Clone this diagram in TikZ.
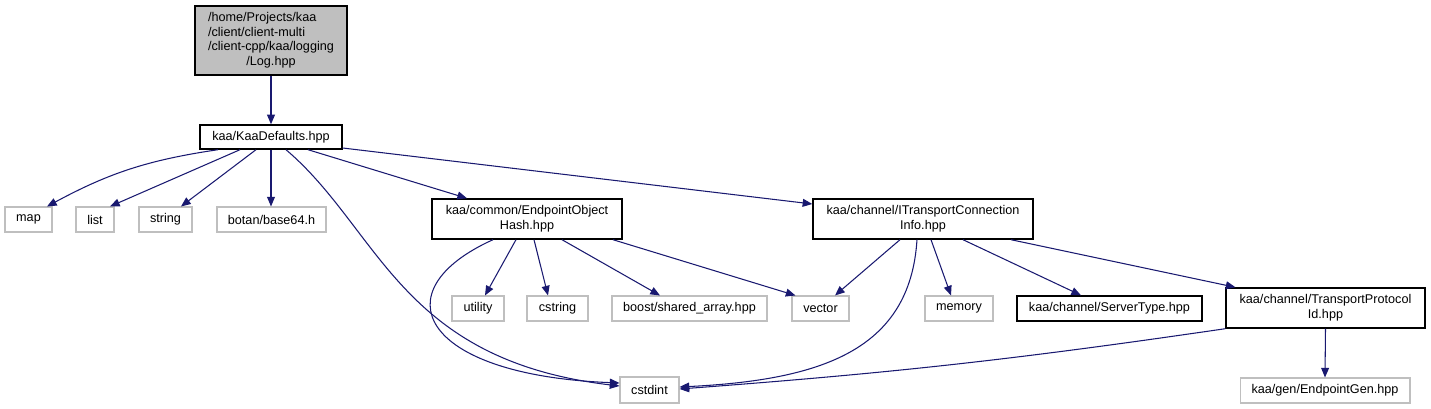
\documentclass[tikz,border=0pt]{standalone}
\usepackage{fontspec}
\setmainfont{Liberation Sans}
\usetikzlibrary{arrows.meta, calc}
\definecolor{edgeblue}{HTML}{191970}
\definecolor{extgray}{HTML}{BFBFBF}

\begin{document}
\begin{tikzpicture}[
  x=0.02cm, y=-0.02cm,
  file/.style={rectangle, draw=black, line width=0.8pt, fill=white, inner sep=0pt,
               align=center, font=\fontsize{7.2}{8.5}\selectfont, minimum height=0.5cm},
  ext/.style={file, draw=extgray, line width=0.6pt},
  dep/.style={-{Triangle[length=5.5pt, width=4.5pt]}, draw=edgeblue, line width=0.6pt},
]
\useasboundingbox (0,0) rectangle (1431,409);

\node[file, fill=extgray, minimum width=3.04cm, minimum height=1.38cm] (log) at (271,40.5)
  {\begin{tabular}{@{}l@{}}/home/Projects/kaa\\/client/client-multi\\/client-cpp/kaa/logging\\
   \multicolumn{1}{@{}c@{}}{/Log.hpp}\end{tabular}};
\node[file, minimum width=2.84cm, minimum height=0.48cm] (kaa) at (271,137) {kaa/KaaDefaults.hpp};

\node[ext, minimum width=0.94cm]  (map)    at (28.5,219.5)  {map};
\node[ext, minimum width=0.76cm]  (list)   at (95,219.5)    {list};
\node[ext, minimum width=1.06cm]  (string) at (165.5,219.5) {string};
\node[ext, minimum width=2.18cm]  (botan)  at (271.5,219.5) {botan/base64.h};
\node[file, minimum width=3.8cm, minimum height=0.8cm] (eoh)  at (527,219)
  {kaa/common/EndpointObject\\Hash.hpp};
\node[file, minimum width=4.4cm, minimum height=0.8cm] (itci) at (923,219)
  {kaa/channel/ITransportConnection\\Info.hpp};

\node[ext, minimum width=1.04cm]  (utility) at (478,308.5)    {utility};
\node[ext, minimum width=1.22cm]  (cstring) at (557.5,308.5)  {cstring};
\node[ext, minimum width=3.1cm]   (boost)   at (689.5,308.5)  {boost/shared\_array.hpp};
\node[ext, minimum width=1.14cm]  (vector)  at (820.5,308.5)  {vector};
\node[ext, minimum width=1.36cm]  (memory)  at (959,308.5)    {memory};
\node[file, minimum width=3.7cm]  (server)  at (1109.5,308.5) {kaa/channel/ServerType.hpp};
\node[file, minimum width=3.98cm, minimum height=0.8cm] (tpi) at (1325.5,308)
  {kaa/channel/TransportProtocol\\Id.hpp};

\node[ext, minimum width=1.18cm, minimum height=0.52cm] (cstdint) at (649.5,390) {cstdint};
\node[ext, minimum width=3.4cm] (gen) at (1325,390.5) {kaa/gen/EndpointGen.hpp};

% Log.hpp and KaaDefaults.hpp
\draw[dep] (log) -- (kaa);
\draw[dep] ($(kaa.south)+(-53,0)$) to[bend right=10] ($(map.north)+(18.5,0)$);
\draw[dep] ($(kaa.south)+(-31,0)$) -- ($(list.north)+(15,0)$);
\draw[dep] ($(kaa.south)+(-15,0)$) -- ($(string.north)+(15.5,0)$);
\draw[dep] (kaa.south) -- ($(botan.north)+(-0.5,0)$);
\draw[dep] ($(kaa.south)+(15,0)$) .. controls +(94,80) and +(-220,-26) .. ($(cstdint.west)+(0,-4)$);
\draw[dep] ($(kaa.south)+(37,0)$) -- ($(eoh.north)+(-60,0)$);
\draw[dep] ($(kaa.east)+(0,11)$) -- ($(itci.west)+(0,-15)$);

% EndpointObjectHash.hpp
\draw[dep] ($(eoh.south)+(-11,0)$) -- ($(utility.north)+(7,0)$);
\draw[dep] ($(eoh.south)+(7,0)$) -- ($(cstring.north)+(-9.5,0)$);
\draw[dep] ($(eoh.south)+(35,0)$) -- ($(boost.north)+(-29.5,0)$);
\draw[dep] ($(eoh.south)+(86,0)$) -- ($(vector.north)+(-25,0)$);
\draw[dep] ($(eoh.south)+(-34,0)$) .. controls +(-113,51) and +(-200,-8) .. ($(cstdint.west)+(0,-7)$);

% ITransportConnectionInfo.hpp
\draw[dep] ($(itci.south)+(-23,0)$) -- ($(vector.north)+(14.5,0)$);
\draw[dep] ($(itci.south)+(-6,0)$) .. controls +(-7,111) and +(141,-7) .. ($(cstdint.east)+(0,-3)$);
\draw[dep] ($(itci.south)+(8,0)$) -- ($(memory.north)+(-8,0)$);
\draw[dep] ($(itci.south)+(40,0)$) -- ($(server.north)+(-28.5,0)$);
\draw[dep] ($(itci.south)+(88,0)$) -- ($(tpi.north)+(-90,0)$);

% TransportProtocolId.hpp
\draw[dep] (tpi.south west) to[bend left=2] ($(cstdint.east)+(0,-1)$);
\draw[dep] (tpi.south) -- (gen.north);
\end{tikzpicture}
\end{document}
